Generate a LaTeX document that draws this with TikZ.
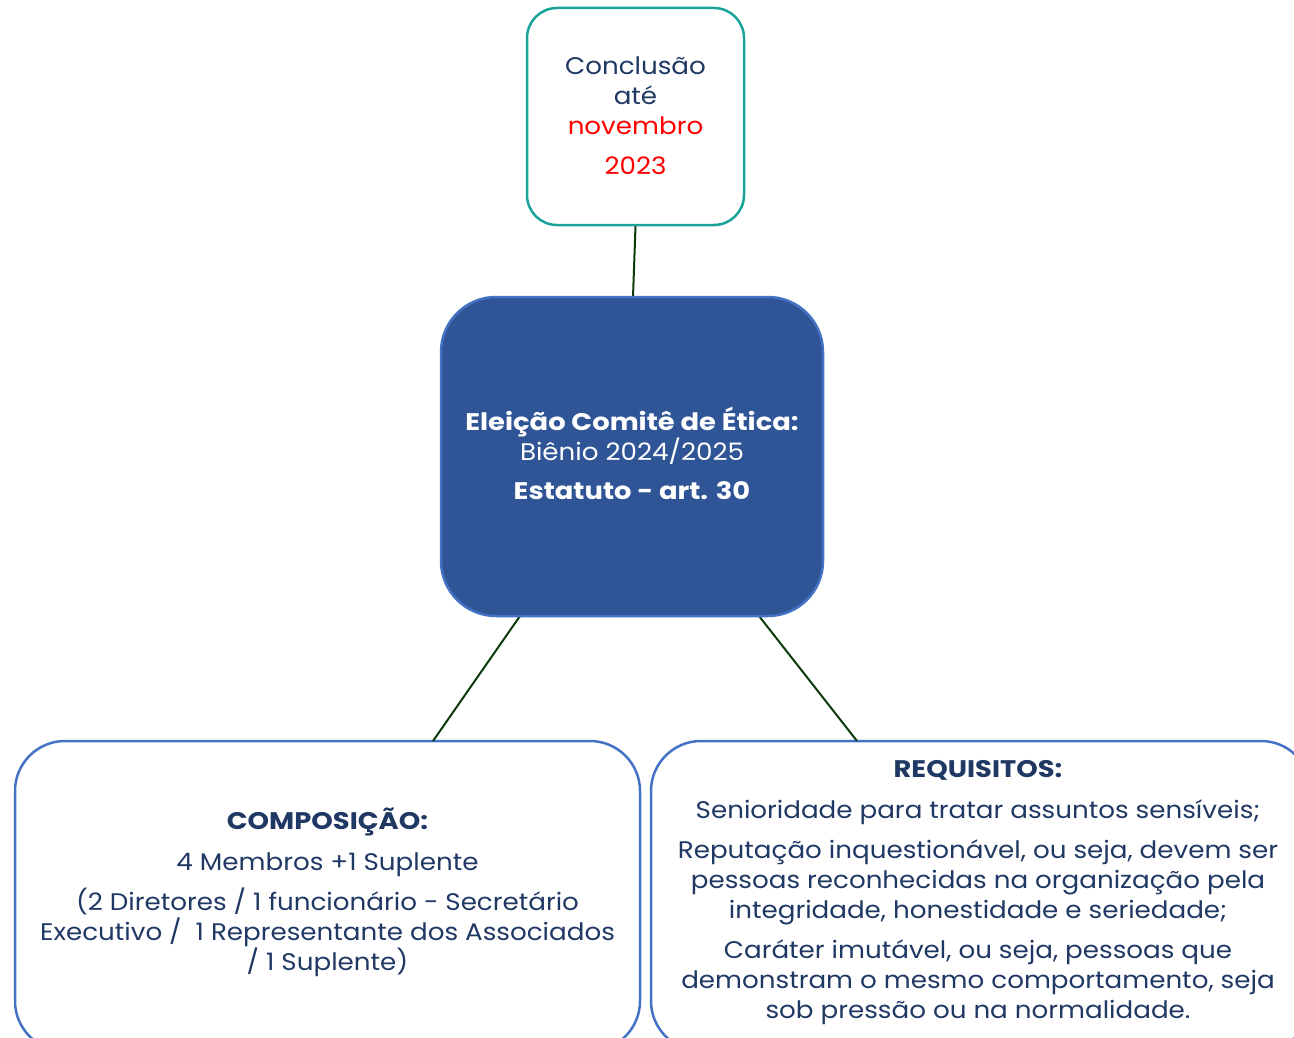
\documentclass[tikz,border=0pt]{standalone}
\usepackage{fontspec}
\setmainfont{Poppins}[FakeStretch=1.09, BoldFeatures={FakeStretch=1.14}]
\definecolor{navy}{HTML}{203864}
\definecolor{teal2}{HTML}{19A39A}
\definecolor{boxblue}{HTML}{4472C4}
\definecolor{fillblue}{HTML}{2F5597}
\definecolor{linkgreen}{HTML}{0B3A0B}
\definecolor{redtxt}{HTML}{FF0000}
\tikzset{
  box/.style={draw=boxblue, line width=2.5pt, rounded corners=#1, fill=white, inner sep=0pt},
  box/.default=50pt,
  link/.style={draw=linkgreen, line width=2pt},
  txt/.style={align=center, inner sep=0pt, font=\fontsize{24}{30}\selectfont, text=navy},
}
\begin{document}
\begin{tikzpicture}[x=1pt,y=-1pt]
\useasboundingbox (0,0) rectangle (1294,1038);
\clip (0,0) rectangle (1294,1038);
\fill[white] (0,0) rectangle (1294,1038);
% boxes
\node[box=30pt, draw=teal2, minimum width=217pt, minimum height=217pt] (top) at (635.5,116.5) {};
\node[box=50pt, minimum width=625pt, minimum height=310pt] (left) at (327.5,896) {};
\node[box=50pt, minimum width=660pt, minimum height=310pt] (right) at (981,896) {};
% connectors
\coordinate (midtop) at (633,297);
\coordinate (midbl) at (520,616);
\coordinate (midbr) at (759,616);
\coordinate (lefttop) at (433,741);
\coordinate (righttop) at (857,741);
\draw[link] (top.south) -- (midtop);
\draw[link] (midbl) -- (lefttop);
\draw[link] (midbr) -- (righttop);
\node[box=55pt, draw=boxblue, fill=fillblue, minimum width=382pt, minimum height=319pt] (mid) at (632,456.5) {};
% texts
\node[txt] (toptxt) at (635.5,116) {Conclusão\\até\\{\color{redtxt}novembro}\\[10pt]{\color{redtxt}2023}};
\node[txt, text=white] (midtxt) at (632,453) {\textbf{Eleição Comitê de Ética:}\\Biênio 2024/2025\\[9pt]\textbf{Estatuto - art. 30}};
\node[txt] (lefttxt) at (327.5,892) {\textbf{COMPOSIÇÃO:}\\[11pt]4 Membros +1 Suplente\\[10pt](2 Diretores / 1 funcionário - Secretário\\Executivo /\ \ 1 Representante dos Associados\\/ 1 Suplente)};
\node[txt] (righttxt) at (978,893) {\textbf{REQUISITOS:}\\[11pt]Senioridade para tratar assuntos sensíveis;\\[10pt]Reputação inquestionável, ou seja, devem ser\\pessoas reconhecidas na organização pela\\integridade, honestidade e seriedade;\\[10pt]Caráter imutável, ou seja, pessoas que\\demonstram o mesmo comportamento, seja\\sob pressão ou na normalidade.};
\end{tikzpicture}
\end{document}
